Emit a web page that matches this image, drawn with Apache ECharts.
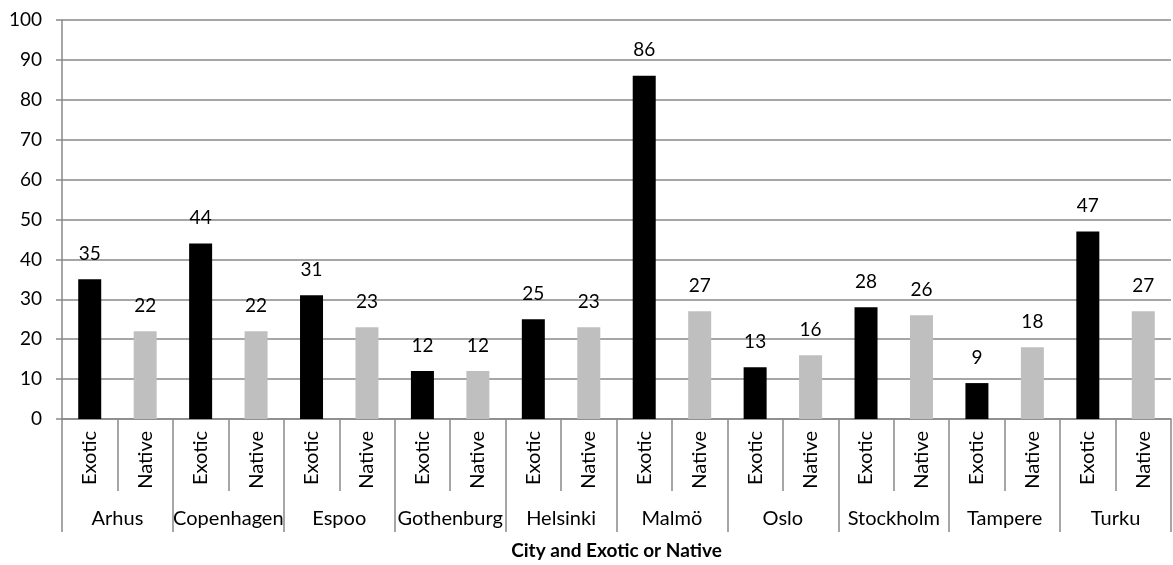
<!DOCTYPE html>
<html>
<head>
<meta charset="utf-8">
<script src="https://cdn.jsdelivr.net/npm/echarts@6/dist/echarts.min.js"></script>
<style>
  html, body { margin: 0; padding: 0; background: #fff; }
  #chart { width: 1173px; height: 565px; }
</style>
</head>
<body>
<div id="chart"></div>
<script>
var cities = ['Arhus', 'Copenhagen', 'Espoo', 'Gothenburg', 'Helsinki', 'Malmö', 'Oslo', 'Stockholm', 'Tampere', 'Turku'];
var kinds = ['Exotic', 'Native'];
var exoticValues = [35, 44, 31, 12, 25, 86, 13, 28, 9, 47];
var nativeValues = [22, 22, 23, 12, 23, 27, 16, 26, 18, 27];
var yTicks = { min: 0, max: 100, interval: 10 };

var font = 'Lato, "Open Sans", sans-serif';
var fs = 19;
var gray = '#898989';

// build the 20 sub-categories and bar items
var subCats = [];
var barData = [];
for (var i = 0; i < cities.length; i++) {
    subCats.push(kinds[0]);
    subCats.push(kinds[1]);
    barData.push({ value: exoticValues[i], itemStyle: { color: '#000000' } });
    barData.push({ value: nativeValues[i], itemStyle: { color: '#bfbfbf' } });
}

var option = {
    animation: false,
    textStyle: { fontFamily: font },
    grid: { left: 62, right: 2, top: 20, bottom: 145 },
    xAxis: [{
        type: 'category',
        data: subCats,
        position: 'bottom',
        axisLine: { show: true, lineStyle: { color: gray, width: 1.5 } },
        axisTick: { show: true, interval: 0, length: 72, lineStyle: { color: gray, width: 1.5 } },
        axisLabel: { interval: 0, rotate: 90, margin: 12, color: '#000', fontSize: 20, fontFamily: font }
    }, {
        type: 'category',
        data: cities,
        position: 'bottom',
        axisLine: { show: false },
        axisTick: { show: true, interval: 0, length: 113, lineStyle: { color: gray, width: 1.5 } },
        axisLabel: { interval: 0, margin: 90, color: '#000', fontSize: 20, fontFamily: font },
        name: 'City and Exotic or Native',
        nameLocation: 'middle',
        nameGap: 122,
        nameTextStyle: { fontWeight: 'bold', fontSize: 19, color: '#000', fontFamily: font }
    }],
    yAxis: {
        type: 'value',
        min: yTicks.min,
        max: yTicks.max,
        interval: yTicks.interval,
        axisLine: { show: true, lineStyle: { color: gray, width: 1.5 } },
        axisTick: { show: true, length: 6, lineStyle: { color: gray, width: 1.5 } },
        axisLabel: { margin: 20, color: '#000', fontSize: fs, fontFamily: font },
        splitLine: { show: true, lineStyle: { color: gray, width: 1.5 } }
    },
    series: [{
        type: 'bar',
        xAxisIndex: 0,
        data: barData,
        barWidth: 23,
        label: { show: true, position: 'top', distance: 16, color: '#000', fontSize: fs, fontFamily: font }
    }]
};

var chart = echarts.init(document.getElementById('chart'));
chart.setOption(option);
</script>
</body>
</html>
